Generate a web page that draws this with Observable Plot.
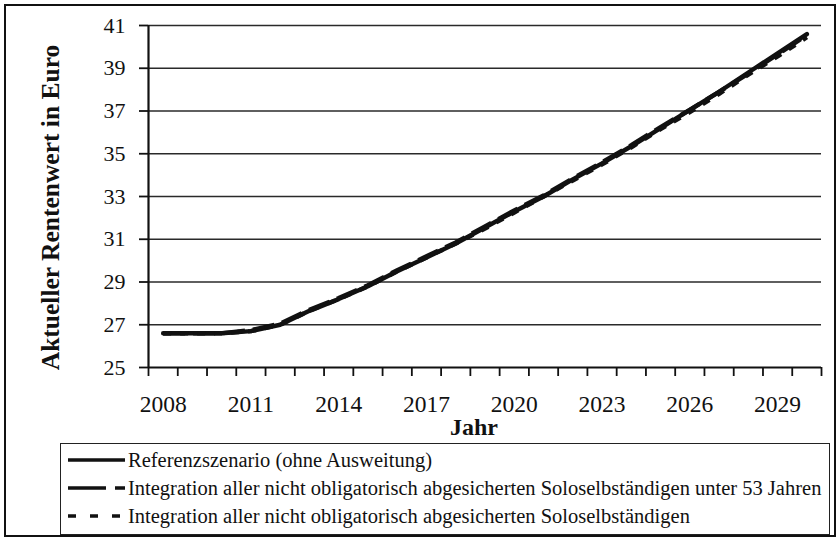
<!DOCTYPE html>
<html>
<head>
<meta charset="utf-8">
<script src="https://cdn.jsdelivr.net/npm/d3@7"></script>
<script src="https://cdn.jsdelivr.net/npm/@observablehq/plot@0.6"></script>
<style>
  body { margin: 0; background: #fff; }
  #wrap { position: relative; width: 837px; height: 539px; overflow: hidden; font-family: "Liberation Serif", "Times New Roman", serif; color: #111; }
  #frame { position: absolute; left: 4px; top: 4px; width: 832px; height: 533px; border: 2px solid #111; box-sizing: border-box; pointer-events: none; }
  #chart { position: absolute; left: 0; top: 0; }
  #legend { position: absolute; left: 60px; top: 443px; width: 770px; height: 92px; border: 1.5px solid #222; box-sizing: border-box; background: #fff; }
  .row { position: absolute; left: 7px; height: 26px; display: flex; align-items: center; font-size: 20.5px; white-space: nowrap; }
  .row svg { margin-right: 3px; }
</style>
</head>
<body>
<div id="wrap">
  <div id="chart"></div>
  <div id="legend"></div>
  <div id="frame"></div>
</div>
<script>
// ---- data ----
const years = [2008, 2009, 2010, 2011, 2012, 2013, 2014, 2015, 2016, 2017, 2018, 2019, 2020, 2021, 2022, 2023, 2024, 2025, 2026, 2027, 2028, 2029, 2030];
const referenz = [26.6, 26.6, 26.6, 26.7, 27.0, 27.65, 28.2, 28.8, 29.5, 30.15, 30.8, 31.55, 32.3, 33.0, 33.8, 34.55, 35.35, 36.2, 37.05, 37.9, 38.8, 39.7, 40.6];
const unter53 = [26.6, 26.6, 26.6, 26.75, 27.05, 27.7, 28.25, 28.85, 29.55, 30.2, 30.85, 31.6, 32.35, 33.05, 33.85, 34.6, 35.4, 36.25, 37.05, 37.9, 38.75, 39.65, 40.55];
const alle = [26.6, 26.6, 26.6, 26.7, 27.0, 27.65, 28.2, 28.8, 29.5, 30.15, 30.8, 31.5, 32.25, 33.0, 33.75, 34.5, 35.3, 36.15, 36.95, 37.8, 38.7, 39.55, 40.45];
const seriesNames = [
  "Referenzszenario (ohne Ausweitung)",
  "Integration aller nicht obligatorisch abgesicherten Soloselbständigen unter 53 Jahren",
  "Integration aller nicht obligatorisch abgesicherten Soloselbständigen"
];
const xTickLabels = [2008, 2011, 2014, 2017, 2020, 2023, 2026, 2029];
const yTicks = [25, 27, 29, 31, 33, 35, 37, 39, 41];
const yTitle = "Aktueller Rentenwert in Euro";
const xTitle = "Jahr";

// ---- build ----
const dashes = [null, "22,8", "8,9"];
const seriesValues = [referenz, unter53, alle];
const tables = seriesValues.map((vals, i) => years.map((yr, j) => ({ year: yr, value: vals[j], series: seriesNames[i] })));
const boundaries = years.map(y => y - 0.5).concat([years[years.length - 1] + 0.5]);

const chart = Plot.plot({
  width: 837,
  height: 440,
  marginLeft: 148,
  marginRight: 16,
  marginTop: 25,
  marginBottom: 73,
  style: { fontFamily: "Liberation Serif, Times New Roman, serif", background: "transparent", color: "#111" },
  x: { type: "linear", domain: [boundaries[0], boundaries[boundaries.length - 1]], axis: null },
  y: { domain: [yTicks[0], yTicks[yTicks.length - 1]], axis: null },
  marks: [
    Plot.ruleY(yTicks.slice(1), { stroke: "#2a2a2a", strokeWidth: 1.3 }),
    Plot.axisY({ ticks: yTicks, tickSize: 9, tickPadding: 14, tickFormat: d => String(d), fontSize: 22, label: null, strokeWidth: 1.8 }),
    Plot.axisX({ ticks: boundaries, tickSize: 9, tickFormat: () => "", label: null, strokeWidth: 1.8 }),
    Plot.axisX({ ticks: xTickLabels, tickSize: 0, tickPadding: 28, tickFormat: d => String(d), fontSize: 23.5, label: null }),
    Plot.ruleY([yTicks[0]], { stroke: "#111", strokeWidth: 2.2 }),
    Plot.ruleX([boundaries[0]], { stroke: "#111", strokeWidth: 2.2 }),
    ...tables.map((t, i) => Plot.line(t, {
      x: "year", y: "value", stroke: "#111", strokeWidth: 4.4,
      strokeDasharray: dashes[i], strokeLinecap: i === 0 ? "round" : "butt"
    })),
    Plot.text([yTitle], { frameAnchor: "left", textAnchor: "middle", rotate: -90, dx: -98, dy: 11, fontSize: 25.5, fontWeight: "bold", fill: "#111" }),
    Plot.text([xTitle], { frameAnchor: "bottom", textAnchor: "middle", dx: -11, dy: 67, fontSize: 24, fontWeight: "bold", fill: "#111" })
  ]
});
document.getElementById("chart").appendChild(chart);

// ---- legend ----
const legend = document.getElementById("legend");
const rowTops = [3, 31, 59];
seriesNames.forEach((name, i) => {
  const row = document.createElement("div");
  row.className = "row";
  row.style.top = rowTops[i] + "px";
  const dash = i === 0 ? "" : (i === 1 ? 'stroke-dasharray="38,9"' : 'stroke-dasharray="8,14"');
  row.innerHTML = `<svg width="57" height="10"><line x1="0" y1="5" x2="57" y2="5" stroke="#111" stroke-width="3.5" ${dash}/></svg><span>${name}</span>`;
  legend.appendChild(row);
});
</script>
</body>
</html>
